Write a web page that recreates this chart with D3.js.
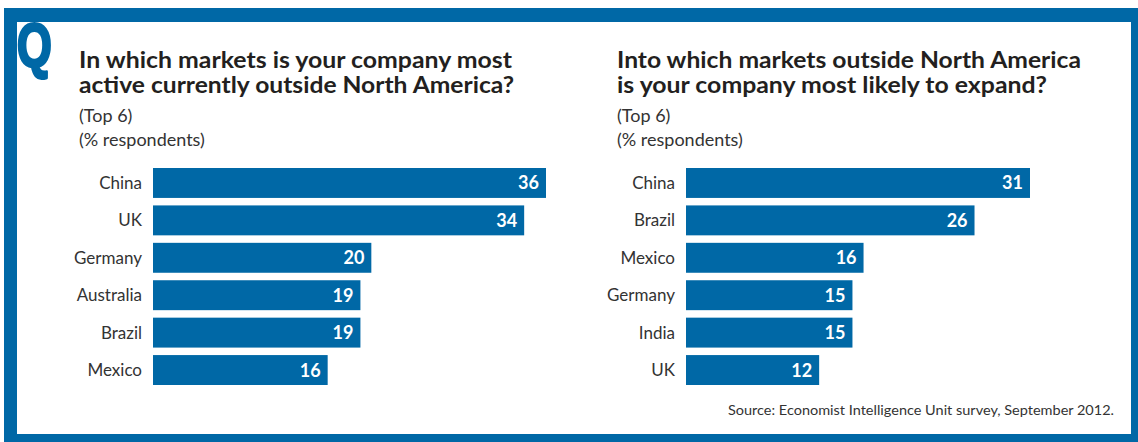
<!DOCTYPE html>
<html>
<head>
<meta charset="utf-8">
<script src="https://cdn.jsdelivr.net/npm/d3@7"></script>
<style>
  html, body { margin: 0; padding: 0; background: #ffffff; }
  svg { display: block; }
</style>
</head>
<body>
<svg id="chart" width="1138" height="442"></svg>
<script>
// ---- data ----
const leftCategories = ["China", "UK", "Germany", "Australia", "Brazil", "Mexico"];
const leftValues = [36, 34, 20, 19, 19, 16];
const rightCategories = ["China", "Brazil", "Mexico", "Germany", "India", "UK"];
const rightValues = [31, 26, 16, 15, 15, 12];
const leftTitle = ["In which markets is your company most", "active currently outside North America?"];
const rightTitle = ["Into which markets outside North America", "is your company most likely to expand?"];
const subTitles = ["(Top 6)", "(% respondents)"];
const sourceText = "Source: Economist Intelligence Unit survey, September 2012.";

const BLUE = "#0068a6";
const TEXT = "#231f20";
const LABEL = "#333333";
const FONT = "Lato, 'Open Sans', sans-serif";

const svg = d3.select("#chart");

// frame
svg.append("rect").attr("x", 4).attr("y", 8).attr("width", 1134).attr("height", 434).attr("fill", BLUE);
svg.append("rect").attr("x", 17).attr("y", 22).attr("width", 1114).attr("height", 412).attr("fill", "#ffffff");

// Q
svg.append("text")
  .attr("transform", "translate(17,66) scale(0.72,1)")
  .attr("font-family", "'Liberation Sans', Arial, sans-serif")
  .attr("font-weight", "bold")
  .attr("font-size", 62)
  .attr("fill", BLUE)
  .attr("stroke", BLUE)
  .attr("stroke-width", 3)
  .attr("stroke-linejoin", "round")
  .text("Q");

function panel(cfg) {
  const g = svg.append("g");
  // titles
  cfg.title.forEach((t, i) => {
    g.append("text")
      .attr("x", cfg.titleX).attr("y", 68 + i * 25)
      .attr("font-family", FONT).attr("font-weight", "bold").attr("font-size", 22)
      .attr("fill", TEXT)
      .attr("textLength", cfg.titleW[i]).attr("lengthAdjust", "spacingAndGlyphs")
      .text(t);
  });
  subTitles.forEach((t, i) => {
    g.append("text")
      .attr("x", cfg.titleX).attr("y", 122 + i * 24)
      .attr("font-family", FONT).attr("font-size", 18)
      .attr("fill", LABEL)
      .text(t);
  });

  const x = d3.scaleLinear().domain([0, cfg.maxV]).range([cfg.x0, cfg.x1]);
  const y = d3.scaleBand().domain(cfg.categories).range([168, 385]).paddingInner(0.2).paddingOuter(0);

  const data = cfg.categories.map((c, i) => ({ c, v: cfg.values[i] }));

  g.selectAll("rect.bar").data(data).enter().append("rect")
    .attr("class", "bar")
    .attr("x", x(0)).attr("y", d => y(d.c))
    .attr("width", d => x(d.v) - x(0)).attr("height", y.bandwidth())
    .attr("fill", BLUE);

  g.selectAll("text.val").data(data).enter().append("text")
    .attr("class", "val")
    .attr("x", d => x(d.v) - 7)
    .attr("y", d => y(d.c) + y.bandwidth() / 2 + 6.5)
    .attr("text-anchor", "end")
    .attr("font-family", FONT).attr("font-weight", "bold").attr("font-size", 18)
    .attr("fill", "#ffffff")
    .text(d => d.v);

  const axis = d3.axisLeft(y).tickSize(0).tickPadding(11);
  const ag = g.append("g").attr("transform", `translate(${x(0)},0)`).call(axis);
  ag.select(".domain").remove();
  ag.selectAll("text")
    .attr("font-family", FONT).attr("font-size", 17).attr("fill", LABEL)
    .attr("dy", "0.35em");
}

panel({
  categories: leftCategories, values: leftValues, maxV: 36, x0: 153, x1: 546,
  title: leftTitle, titleX: 79, titleW: [433, 435]
});
panel({
  categories: rightCategories, values: rightValues, maxV: 31, x0: 686, x1: 1030,
  title: rightTitle, titleX: 617, titleW: [464, 430]
});

svg.append("text")
  .attr("x", 1114).attr("y", 415)
  .attr("text-anchor", "end")
  .attr("font-family", FONT).attr("font-size", 14)
  .attr("textLength", 386).attr("lengthAdjust", "spacingAndGlyphs")
  .attr("fill", LABEL)
  .text(sourceText);
</script>
</body>
</html>
